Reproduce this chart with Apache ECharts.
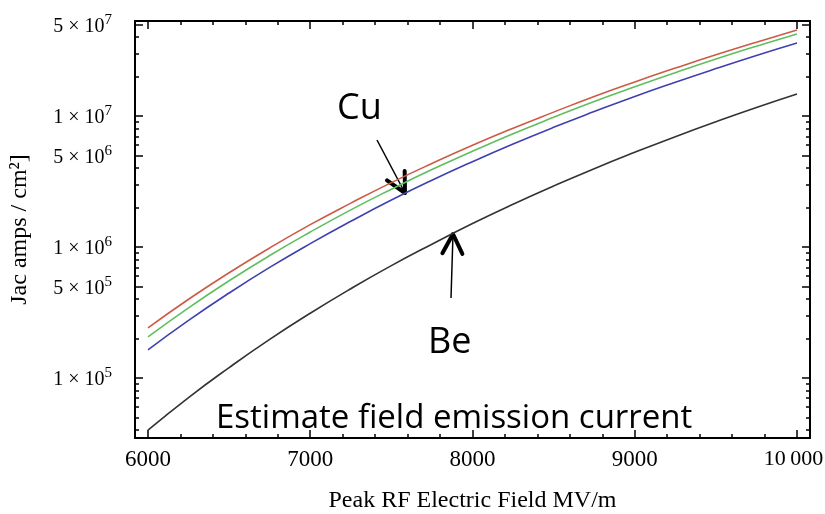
<!DOCTYPE html>
<html>
<head>
<meta charset="utf-8">
<script src="https://cdn.jsdelivr.net/npm/echarts@6/dist/echarts.min.js"></script>
<style>
  html, body { margin: 0; padding: 0; background: #fff; }
  #chart { width: 825px; height: 514px; }
</style>
</head>
<body>
<div id="chart"></div>
<script>
// field values (MV/m)
var fields = [6000, 6250, 6500, 6750, 7000, 7250, 7500, 7750, 8000,
              8250, 8500, 8750, 9000, 9250, 9500, 9750, 10000];
// current density
var redVals   = [2.41e5, 3.99e5, 6.36e5, 9.83e5, 1.48e6, 2.16e6, 3.10e6, 4.34e6, 5.97e6,
                 8.06e6, 1.07e7, 1.41e7, 1.82e7, 2.32e7, 2.93e7, 3.66e7, 4.53e7];
var greenVals = [2.06e5, 3.43e5, 5.52e5, 8.60e5, 1.30e6, 1.92e6, 2.76e6, 3.90e6, 5.38e6,
                 7.32e6, 9.77e6, 1.29e7, 1.67e7, 2.14e7, 2.72e7, 3.41e7, 4.23e7];
var blueVals  = [1.64e5, 2.75e5, 4.45e5, 6.98e5, 1.06e6, 1.57e6, 2.28e6, 3.23e6, 4.48e6,
                 6.11e6, 8.19e6, 1.08e7, 1.41e7, 1.81e7, 2.30e7, 2.90e7, 3.61e7];
var beVals    = [4.00e4, 7.09e4, 1.20e5, 1.97e5, 3.12e5, 4.80e5, 7.20e5, 1.05e6, 1.51e6,
                 2.12e6, 2.92e6, 3.96e6, 5.28e6, 6.95e6, 9.03e6, 1.16e7, 1.47e7];

// ticks
var xMajor = [6000, 7000, 8000, 9000, 10000];
var xMinor = [6200, 6400, 6600, 6800, 7200, 7400, 7600, 7800, 8200, 8400, 8600, 8800,
              9200, 9400, 9600, 9800];
var yMajor = [1e5, 5e5, 1e6, 5e6, 1e7, 5e7];
var yMinor = [4e4, 5e4, 6e4, 7e4, 8e4, 9e4, 2e5, 3e5, 4e5, 6e5, 7e5, 8e5, 9e5,
              2e6, 3e6, 4e6, 6e6, 7e6, 8e6, 9e6, 2e7, 3e7, 4e7];

function pairs(vals) {
  return fields.map(function (f, i) { return [f, vals[i]]; });
}

var serif = "Liberation Serif";
var xMin = 5920, xMax = 10080;
var yMin = 3.48e4, yMax = 5.31e7;

function xAx(pos, ticks, len, withLabels, lineShow) {
  return {
    type: "value", position: pos, min: xMin, max: xMax,
    splitLine: { show: false },
    axisLine: { show: lineShow, lineStyle: { color: "#000", width: 2 } },
    axisTick: { show: true, inside: true, length: len, customValues: ticks,
                lineStyle: { color: "#000", width: 1.5 } },
    axisLabel: withLabels ? {
      customValues: ticks, color: "#000", fontFamily: serif, fontSize: 23, margin: 10,
      formatter: function (v) {
        // last label nudged left so it stays inside the page
        return v === 10000 ? "{r|10\u2009000}" : String(v);
      },
      rich: { r: { fontFamily: serif, fontSize: 22, color: "#000", padding: [0, 7, 0, 0] } }
    } : { show: false }
  };
}

function yAx(pos, ticks, len, withLabels, lineShow) {
  return {
    type: "log", logBase: 10, position: pos, min: yMin, max: yMax,
    splitLine: { show: false },
    axisLine: { show: lineShow, lineStyle: { color: "#000", width: 2 } },
    axisTick: { show: true, inside: true, length: len, customValues: ticks,
                lineStyle: { color: "#000", width: 1.5 } },
    axisLabel: withLabels ? {
      customValues: ticks, color: "#000", fontFamily: serif, margin: 23,
      formatter: function (v) {
        var e = Math.floor(Math.log10(v) + 1e-9);
        var m = Math.round(v / Math.pow(10, e));
        return "{b|" + m + " \u00d7 10}{s|" + e + "}";
      },
      rich: {
        b: { fontFamily: serif, fontSize: 20, color: "#000", lineHeight: 24, verticalAlign: "bottom" },
        s: { fontFamily: serif, fontSize: 15, color: "#000", lineHeight: 24, verticalAlign: "top" }
      }
    } : { show: false }
  };
}

var chart = echarts.init(document.getElementById("chart"));

// arrow helper for the annotations
function arrow(x1, y1, x2, y2) {
  var a = Math.atan2(y2 - y1, x2 - x1), L = 22, w = 27 * Math.PI / 180;
  var h1 = [x2 - L * Math.cos(a - w), y2 - L * Math.sin(a - w)];
  var h2 = [x2 - L * Math.cos(a + w), y2 - L * Math.sin(a + w)];
  return [
    { type: "polyline", shape: { points: [[x1, y1], [x2, y2]] },
      style: { stroke: "#000", lineWidth: 1.5, fill: null } },
    { type: "polyline", shape: { points: [h1, [x2, y2], h2] },
      style: { stroke: "#000", lineWidth: 4, fill: null, lineJoin: "round", lineCap: "round" } }
  ];
}

var annFont = "36px 'Open Sans'";

chart.setOption({
  animation: false,
  grid: { left: 135, right: 15, top: 21, bottom: 76, outerBoundsMode: "none", containLabel: false },
  xAxis: [
    Object.assign(xAx("bottom", xMajor, 8, true, true), {
      name: "Peak RF Electric Field MV/m", nameLocation: "middle", nameGap: 51,
      nameTextStyle: { color: "#000", fontFamily: serif, fontSize: 24 }
    }),
    xAx("bottom", xMinor, 4, false, false),
    xAx("top", xMajor, 8, false, true),
    xAx("top", xMinor, 4, false, false)
  ],
  yAxis: [
    Object.assign(yAx("left", yMajor, 8, true, true), {
      name: "Jac amps / cm\u00b2]", nameLocation: "middle", nameGap: 103,
      nameTextStyle: { color: "#000", fontFamily: serif, fontSize: 24 }
    }),
    yAx("left", yMinor, 4, false, false),
    yAx("right", yMajor, 8, false, true),
    yAx("right", yMinor, 4, false, false)
  ],
  series: [
    { name: "red", type: "line", data: pairs(redVals), smooth: true, showSymbol: false,
      lineStyle: { color: "#cc5a45", width: 1.6 } },
    { name: "green", type: "line", data: pairs(greenVals), smooth: true, showSymbol: false,
      lineStyle: { color: "#5fbf5f", width: 1.6 } },
    { name: "blue", type: "line", data: pairs(blueVals), smooth: true, showSymbol: false,
      lineStyle: { color: "#4040b0", width: 1.6 } },
    { name: "Be", type: "line", data: pairs(beVals), smooth: true, showSymbol: false,
      lineStyle: { color: "#333", width: 1.6 } }
  ],
  graphic: [
    { type: "text", left: 337, top: 91, style: { text: "Cu", font: annFont, fill: "#000" } },
    { type: "text", left: 428, top: 325, style: { text: "Be", font: annFont, fill: "#000" } },
    { type: "text", left: 216, top: 402,
      style: { text: "Estimate field emission current", font: "33px 'Open Sans'", fill: "#000" } }
  ].concat(arrow(377, 140, 405, 193), arrow(451, 298, 453, 234))
});
</script>
</body>
</html>
